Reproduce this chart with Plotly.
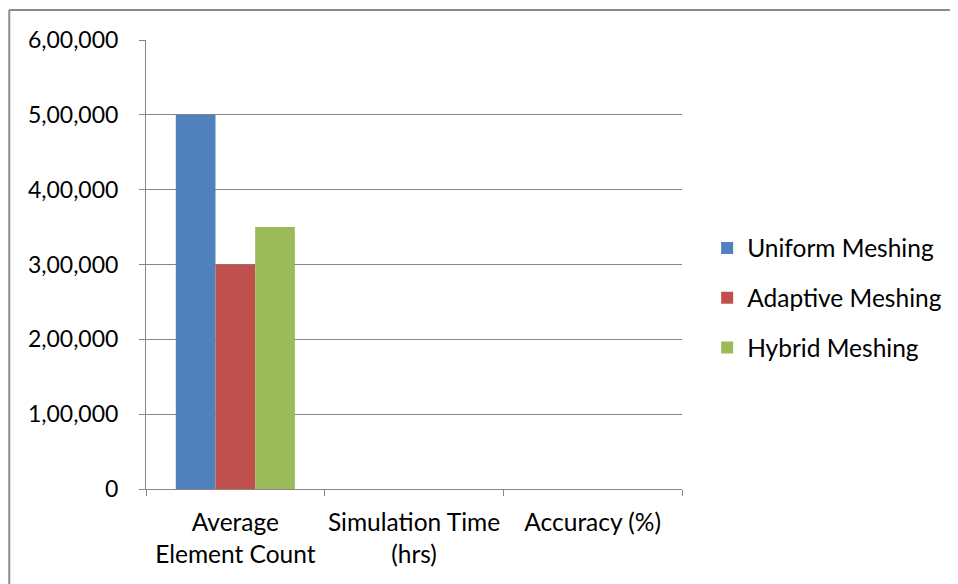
import plotly.graph_objects as go

categories = ["Average<br>Element Count", "Simulation Time<br>(hrs)", "Accuracy (%)"]
uniform = [500000, None, None]
adaptive = [300000, None, None]
hybrid = [350000, None, None]
series_names = ["Uniform Meshing", "Adaptive Meshing", "Hybrid Meshing"]
colors = ["#4F81BD", "#C0504D", "#9BBB59"]
ytick_vals = [0, 100000, 200000, 300000, 400000, 500000, 600000]
ytick_text = ["0", "1,00,000", "2,00,000", "3,00,000", "4,00,000", "5,00,000", "6,00,000"]

font_family = "Lato, Open Sans, sans-serif"
fig = go.Figure()
for i, (name, vals) in enumerate(zip(series_names, [uniform, adaptive, hybrid])):
    fig.add_trace(go.Bar(x=categories, y=vals, name=name, marker_color=colors[i],
                         marker_line_width=0, legendgroup=f"g{i}"))

fig.update_layout(
    width=950, height=576,
    margin=dict(l=138, r=275, t=32, b=95),
    paper_bgcolor="white", plot_bgcolor="white",
    barmode="group", bargap=1/3, bargroupgap=0,
    font=dict(family=font_family, size=23, color="#000000"),
    legend=dict(x=1.045, y=0.4254, yanchor="middle", xanchor="left",
                font=dict(size=24.5), tracegroupgap=15, itemwidth=30),
    showlegend=True,
)
fig.update_xaxes(
    type="category", showline=True, linecolor="#868686", linewidth=1,
    ticks="outside", tickson="boundaries", ticklen=6, tickcolor="#868686",
    showgrid=False, ticklabelstandoff=12, tickfont=dict(size=24.5),
    tickangle=0, automargin=False,
)
fig.update_yaxes(
    range=[0, 600000], tickvals=ytick_vals, ticktext=ytick_text,
    showline=True, linecolor="#868686", linewidth=1,
    ticks="outside", ticklen=6, tickcolor="#868686",
    showgrid=True, gridcolor="#868686", gridwidth=1, zeroline=False,
    ticklabelstandoff=16, tickfont=dict(size=23), automargin=False,
)
bx0 = (9 - 146) / 537
by1 = (489 - 10) / 449
border = dict(color="#8c8c8c", width=2)
fig.add_shape(type="line", xref="paper", yref="paper", x0=bx0, x1=2, y0=by1, y1=by1,
              line=border, layer="below")
fig.add_shape(type="line", xref="paper", yref="paper", x0=bx0, x1=bx0, y0=by1, y1=-0.5,
              line=border, layer="below")
fig.write_html("out.html")
